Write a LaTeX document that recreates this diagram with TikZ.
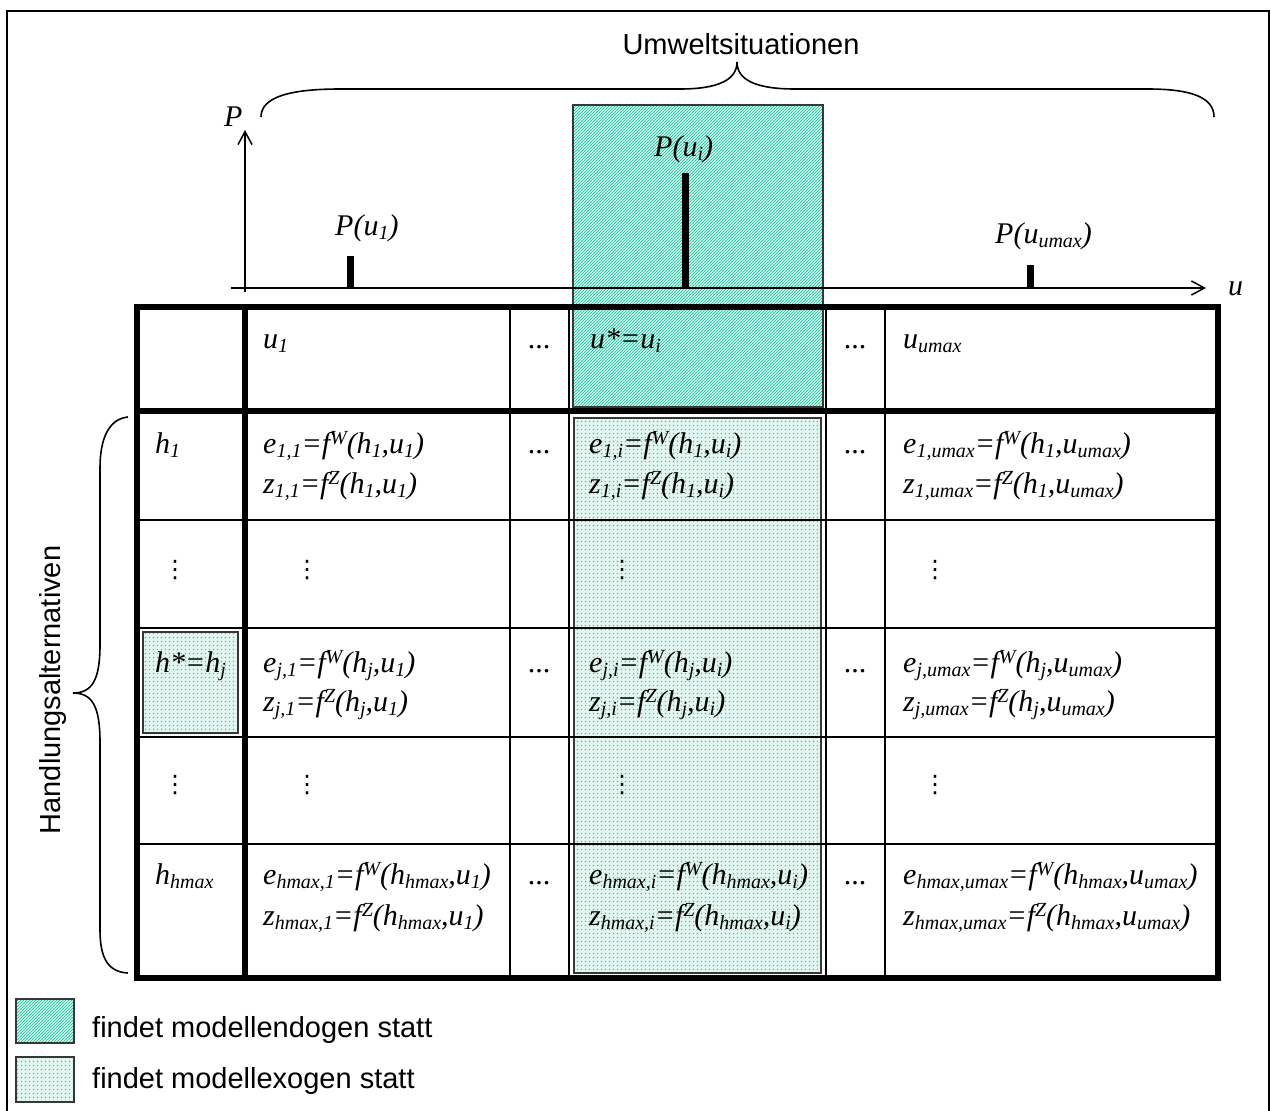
\documentclass[tikz,border=0pt]{standalone}
\usepackage{fontspec}
\setmainfont{Liberation Serif}
\newfontfamily\arialf{Liberation Sans}
\newfontfamily\dejavuf{DejaVu Sans}
\usetikzlibrary{arrows.meta,patterns.meta}

\definecolor{tealink}{RGB}{40,205,165}
\definecolor{mintbg}{RGB}{226,247,240}
\definecolor{boxline}{RGB}{55,55,55}

% diagonal hatching for endogenous areas
\tikzdeclarepattern{
  name=endohatch, type=colored,
  bottom left={(-1pt,-1pt)}, top right={(4pt,4pt)}, tile size={(3pt,3pt)},
  code={\draw[tealink, line width=0.85pt] (-0.5pt,-0.5pt) -- (3.5pt,3.5pt);}
}
% fine dot grid for exogenous areas
\tikzdeclarepattern{
  name=exodots, type=colored,
  bottom left={(0pt,0pt)}, top right={(4pt,4pt)}, tile size={(4pt,4pt)},
  code={\fill[tealink] (1.2pt,1.2pt) rectangle (2.6pt,2.6pt);}
}

% lowered and raised indices
\newcommand{\idx}[1]{\raisebox{-4pt}{\fontsize{20}{20}\selectfont #1}}
\newcommand{\expo}[1]{\raisebox{9pt}{\fontsize{20}{20}\selectfont #1}}

\tikzset{
  mtext/.style={font=\fontsize{30}{36}\selectfont\itshape, inner sep=0pt, anchor=base west},
  dotsh/.style={font=\fontsize{30}{36}\selectfont, inner sep=0pt, anchor=base},
  dotsv/.style={font=\dejavuf\fontsize{24}{28}\selectfont, inner sep=0pt, anchor=center},
  stext/.style={font=\arialf\fontsize{29}{34}\selectfont, inner sep=0pt},
  thickline/.style={line width=5.5pt},
  thinline/.style={line width=2pt},
  axisline/.style={line width=1.5pt},
  bracel/.style={line width=1.6pt},
  bar/.style={line width=7pt},
  endobox/.style={draw=boxline, line width=1.6pt, pattern=endohatch},
  exobox/.style={draw=boxline, line width=1.6pt, pattern=exodots},
  tip/.style={-{Straight Barb[length=13pt,width=14pt]}}
}

\begin{document}
\begin{tikzpicture}[x=1pt,y=-1pt]
\useasboundingbox (0,0) rectangle (1270,1111);

% outer frame
\draw[line width=2pt] (7,1116) -- (7,11) -- (1269,11) -- (1269,1116);

% shaded areas (light base tone under the textures)
\fill[mintbg] (574,418) rectangle (821,973);
\fill[mintbg] (143,632) rectangle (238,733);
\fill[mintbg] (16,1057) rectangle (74,1102);
\draw[endobox] (573,105) rectangle (823,407);
\draw[exobox] (574,418) rectangle (821,973);
\draw[exobox] (143,632) rectangle (238,733);

% probability axes
\coordinate (yb) at (245,292);
\coordinate (yt) at (245,130);
\coordinate (xl) at (231,288);
\coordinate (xr) at (1206,288);
\draw[axisline, tip] (yb) -- (yt);
\draw[axisline, tip] (xl) -- (xr);
\node[mtext] (plab) at (224,126) {P};
\node[mtext] (ulab) at (1228,295) {u};

% probability bars
\coordinate (b1t) at (350,256); \coordinate (b1b) at (350,288);
\coordinate (bit) at (685,173); \coordinate (bib) at (685,288);
\coordinate (but) at (1030,265); \coordinate (bub) at (1030,288);
\draw[bar] (b1b) -- (b1t);
\draw[bar] (bib) -- (bit);
\draw[bar] (bub) -- (but);
\node[mtext] (pu1) at (335,235) {P(u\idx{1})};
\node[mtext] (pui) at (654,156) {P(u\idx{i})};
\node[mtext] (puu) at (995,243) {P(u\idx{umax})};

% brace over the environment states
\draw[bracel] (261,117) .. controls (261,97) and (290,89) .. (340,89)
  -- (680,89) .. controls (718,89) and (737,80) .. (737,62)
  .. controls (737,80) and (756,89) .. (795,89)
  -- (1148,89) .. controls (1195,89) and (1214,99) .. (1214,117);
\node[stext, anchor=base] (umw) at (741,54) {Umweltsituationen};

% brace beside the action alternatives
\draw[bracel] (128,417) .. controls (108,419) and (100,440) .. (100,468)
  -- (100,645) .. controls (100,680) and (92,693) .. (73,693)
  .. controls (92,693) and (100,706) .. (100,742)
  -- (100,930) .. controls (100,958) and (108,972) .. (128,973);
\node[stext, rotate=90, anchor=base] (hdl) at (60,690) {Handlungsalternativen};

% table grid
\draw[thinline] (510,307) -- (510,978);
\draw[thinline] (569,307) -- (569,978);
\draw[thinline] (826,307) -- (826,978);
\draw[thinline] (885,307) -- (885,978);
\draw[thinline] (137,520) -- (1218,520);
\draw[thinline] (137,628) -- (1218,628);
\draw[thinline] (137,737) -- (1218,737);
\draw[thinline] (137,844) -- (1218,844);
\draw[thickline] (137,307) rectangle (1218,978);
\draw[thickline] (137,411) -- (1218,411);
\draw[thickline] (245,307) -- (245,978);

% header row
\node[mtext] (hu1) at (263,348) {u\idx{1}};
\node[dotsh] (hd1) at (539,348) {...};
\node[mtext] (hui) at (590,348) {u*=u\idx{i}};
\node[dotsh] (hd2) at (855,348) {...};
\node[mtext] (huu) at (903,348) {u\idx{umax}};

% row h_1
\node[mtext] (r1h) at (155,453) {h\idx{1}};
\node[mtext] (r1e1) at (263,453) {e\idx{1,1}=f\expo{W}(h\idx{1},u\idx{1})};
\node[mtext] (r1z1) at (263,493) {z\idx{1,1}=f\expo{Z}(h\idx{1},u\idx{1})};
\node[dotsh] (r1d1) at (539,453) {...};
\node[mtext] (r1ei) at (589,453) {e\idx{1,i}=f\expo{W}(h\idx{1},u\idx{i})};
\node[mtext] (r1zi) at (589,493) {z\idx{1,i}=f\expo{Z}(h\idx{1},u\idx{i})};
\node[dotsh] (r1d2) at (855,453) {...};
\node[mtext] (r1eu) at (903,453) {e\idx{1,umax}=f\expo{W}(h\idx{1},u\idx{umax})};
\node[mtext] (r1zu) at (903,493) {z\idx{1,umax}=f\expo{Z}(h\idx{1},u\idx{umax})};

% first gap row
\node[dotsv] (g1a) at (175,570) {⋮};
\node[dotsv] (g1b) at (307,570) {⋮};
\node[dotsv] (g1c) at (622,570) {⋮};
\node[dotsv] (g1d) at (935,570) {⋮};

% row h_j
\node[mtext] (rjh) at (155,672) {h*=h\idx{j}};
\node[mtext] (rje1) at (263,672) {e\idx{j,1}=f\expo{W}(h\idx{j},u\idx{1})};
\node[mtext] (rjz1) at (263,711) {z\idx{j,1}=f\expo{Z}(h\idx{j},u\idx{1})};
\node[dotsh] (rjd1) at (539,672) {...};
\node[mtext] (rjei) at (589,672) {e\idx{j,i}=f\expo{W}(h\idx{j},u\idx{i})};
\node[mtext] (rjzi) at (589,711) {z\idx{j,i}=f\expo{Z}(h\idx{j},u\idx{i})};
\node[dotsh] (rjd2) at (855,672) {...};
\node[mtext] (rjeu) at (903,672) {e\idx{j,umax}=f\expo{W}(h\idx{j},u\idx{umax})};
\node[mtext] (rjzu) at (903,711) {z\idx{j,umax}=f\expo{Z}(h\idx{j},u\idx{umax})};

% second gap row
\node[dotsv] (g2a) at (175,785) {⋮};
\node[dotsv] (g2b) at (307,785) {⋮};
\node[dotsv] (g2c) at (622,785) {⋮};
\node[dotsv] (g2d) at (935,785) {⋮};

% row h_hmax
\node[mtext] (rmh) at (155,884) {h\idx{hmax}};
\node[mtext] (rme1) at (263,884) {e\idx{hmax,1}=f\expo{W}(h\idx{hmax},u\idx{1})};
\node[mtext] (rmz1) at (263,925) {z\idx{hmax,1}=f\expo{Z}(h\idx{hmax},u\idx{1})};
\node[dotsh] (rmd1) at (539,884) {...};
\node[mtext] (rmei) at (589,884) {e\idx{hmax,i}=f\expo{W}(h\idx{hmax},u\idx{i})};
\node[mtext] (rmzi) at (589,925) {z\idx{hmax,i}=f\expo{Z}(h\idx{hmax},u\idx{i})};
\node[dotsh] (rmd2) at (855,884) {...};
\node[mtext] (rmeu) at (903,884) {e\idx{hmax,umax}=f\expo{W}(h\idx{hmax},u\idx{umax})};
\node[mtext] (rmzu) at (903,925) {z\idx{hmax,umax}=f\expo{Z}(h\idx{hmax},u\idx{umax})};

% legend
\draw[endobox] (16,999) rectangle (74,1043);
\draw[exobox] (16,1057) rectangle (74,1102);
\node[stext, anchor=base west] (leg1) at (92,1037) {findet modellendogen statt};
\node[stext, anchor=base west] (leg2) at (92,1088) {findet modellexogen statt};
\end{tikzpicture}
\end{document}
